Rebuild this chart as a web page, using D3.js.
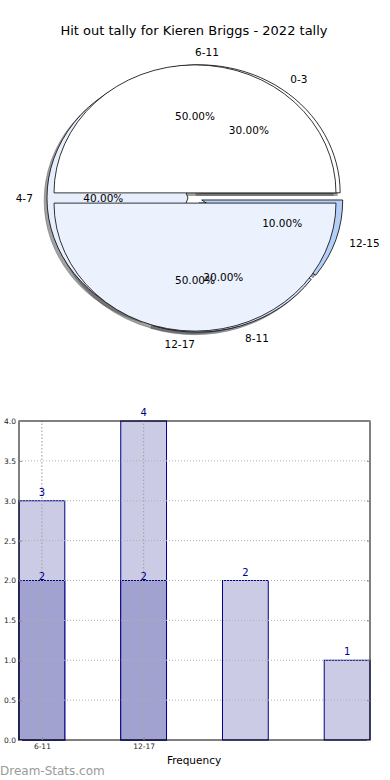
<!DOCTYPE html>
<html><head><meta charset="utf-8">
<script src="https://cdn.jsdelivr.net/npm/d3@7"></script>
<style>body{margin:0;background:#fff}svg{display:block;font-family:"DejaVu Sans",sans-serif}</style>
</head><body><svg id="c" width="390" height="780"></svg>
<script>
const chartTitle = "Hit out tally for Kieren Briggs - 2022 tally";
const outerCategories = ["0-3", "4-7", "8-11", "12-15"];
const outerValues = [3, 4, 2, 1];
const innerCategories = ["6-11", "12-17"];
const innerValues = [2, 2];
const barTickLabels = ["6-11", "12-17"];
const barLightValues = [3, 4, 2, 1];
const barDarkValues = [2, 2];
const yTickValues = [0, 0.5, 1, 1.5, 2, 2.5, 3, 3.5, 4];
const xAxisLabel = "Frequency";
const watermark = "Dream-Stats.com";

const outerColors = ["#ffffff", "#e8effc", "#d6e4fa", "#b3cff8"];
const innerColors = ["#ffffff", "#ebf1fd"];

const svg = d3.select("#c");

svg.append("text").attr("x", 194).attr("y", 30).attr("dy", "0.35em")
  .attr("text-anchor", "middle").attr("font-size", 13).text(chartTitle);

// ---------- pie ----------
const cx = 195, cy = 198, rx = 141, ry = 128;
const pie = d3.pie().sort(null).startAngle(Math.PI / 2).endAngle(Math.PI / 2 - 2 * Math.PI);
const arcGen = d3.arc().innerRadius(0).outerRadius(1);

function build(values, cats, colors, explode) {
  return pie(values).map((d, i) => {
    const tm = (d.startAngle + d.endAngle) / 2;
    const phi = Math.PI / 2 - tm;
    return { d, cat: cats[i], color: colors[i], phi,
      ox: explode * Math.cos(phi), oy: -explode * Math.sin(phi),
      pct: (d.value / d3.sum(values) * 100).toFixed(2) + "%" };
  });
}
const outer = build(outerValues, outerCategories, outerColors, 0.05);
const inner = build(innerValues, innerCategories, innerColors, 0.04);
const all = outer.concat(inner);

function shade(c) {
  const r = d3.rgb(c);
  return d3.rgb(r.r * 0.3, r.g * 0.3, r.b * 0.3).toString();
}
const gPie = svg.append("g");
// shadows
all.forEach(s => {
  gPie.append("path")
    .attr("transform", `translate(${cx + (s.ox - 0.02) * rx},${cy + (s.oy + 0.02) * ry}) scale(${rx},${ry})`)
    .attr("d", arcGen(s.d))
    .attr("fill", shade(s.color)).attr("stroke", shade(s.color))
    .attr("fill-opacity", 0.5).attr("stroke-opacity", 0.5)
    .attr("stroke-width", 0.8).attr("vector-effect", "non-scaling-stroke");
});
all.forEach(s => {
  gPie.append("path")
    .attr("transform", `translate(${cx + s.ox * rx},${cy + s.oy * ry}) scale(${rx},${ry})`)
    .attr("d", arcGen(s.d))
    .attr("fill", s.color).attr("stroke", "#000")
    .attr("stroke-width", 0.8).attr("vector-effect", "non-scaling-stroke");
});
all.forEach(s => {
  const lx = cx + (s.ox + 1.1 * Math.cos(s.phi)) * rx;
  const ly = cy + (s.oy - 1.1 * Math.sin(s.phi)) * ry;
  gPie.append("text").attr("x", lx).attr("y", ly).attr("dy", "0.35em")
    .attr("text-anchor", Math.cos(s.phi) > 0 ? "start" : "end")
    .attr("font-size", 10.5).text(s.cat);
  const px = cx + (s.ox + 0.6 * Math.cos(s.phi)) * rx;
  const py = cy + (s.oy - 0.6 * Math.sin(s.phi)) * ry;
  gPie.append("text").attr("x", px).attr("y", py).attr("dy", "0.35em")
    .attr("text-anchor", "middle").attr("font-size", 10.5).text(s.pct);
});

// ---------- bars ----------
const x = d3.scaleLinear().domain([-0.225, 3.225]).range([19, 370]);
const y = d3.scaleLinear().domain([0, 4]).range([740, 421]);
const bw = 0.45;
const gBar = svg.append("g");

gBar.selectAll("rect.light").data(barLightValues).join("rect")
  .attr("x", (d, i) => x(i - bw / 2)).attr("width", (d, i) => x(i + bw / 2) - x(i - bw / 2))
  .attr("y", d => y(d)).attr("height", d => y(0) - y(d))
  .attr("fill", "#cbcbe5").attr("stroke", "#00008b").attr("stroke-width", 1);
gBar.selectAll("rect.dark").data(barDarkValues).join("rect")
  .attr("x", (d, i) => x(i - bw / 2)).attr("width", (d, i) => x(i + bw / 2) - x(i - bw / 2))
  .attr("y", d => y(d)).attr("height", d => y(0) - y(d))
  .attr("fill", "#a2a2d0").attr("stroke", "#00008b").attr("stroke-width", 1);

// grid on top
gBar.selectAll("line.hg").data(yTickValues.filter(v => v > 0 && v < 4)).join("line")
  .attr("x1", x(-0.225)).attr("x2", x(3.225)).attr("y1", d => y(d)).attr("y2", d => y(d))
  .attr("stroke", "#b0b0b0").attr("stroke-width", 1).attr("stroke-dasharray", "1,2");
gBar.selectAll("line.vg").data([0, 1]).join("line")
  .attr("x1", d => x(d)).attr("x2", d => x(d)).attr("y1", y(0)).attr("y2", y(4))
  .attr("stroke", "#a8a8a8").attr("stroke-width", 1.2).attr("stroke-dasharray", "1.5,2");

// value labels
gBar.selectAll("text.lv").data(barLightValues).join("text")
  .attr("x", (d, i) => x(i)).attr("y", d => y(d) - 5).attr("text-anchor", "middle")
  .attr("font-size", 10).attr("fill", "#00008b").text(d => d);
gBar.selectAll("text.dv").data(barDarkValues).join("text")
  .attr("x", (d, i) => x(i)).attr("y", d => y(d) - 0.5).attr("text-anchor", "middle")
  .attr("font-size", 10).attr("fill", "#00008b").text(d => d);

// frame
gBar.append("rect").attr("x", 19).attr("y", 421).attr("width", 351).attr("height", 319)
  .attr("fill", "none").attr("stroke", "#000").attr("stroke-width", 1);

const yAx = gBar.append("g").attr("transform", `translate(19,0)`)
  .call(d3.axisLeft(y).tickValues(yTickValues).tickFormat(d3.format(".1f")).tickSizeInner(-3).tickSizeOuter(0).tickPadding(3));
yAx.select(".domain").remove();
yAx.selectAll("line").attr("stroke", "#888");
yAx.selectAll("text").attr("font-size", 7.5).attr("font-family", "DejaVu Sans").attr("fill", "#222");
const yAxR = gBar.append("g").attr("transform", `translate(370,0)`)
  .call(d3.axisRight(y).tickValues(yTickValues).tickFormat("").tickSizeInner(-3).tickSizeOuter(0));
yAxR.select(".domain").remove();
yAxR.selectAll("line").attr("stroke", "#888");

const xAx = gBar.append("g").attr("transform", `translate(0,740)`)
  .call(d3.axisBottom(x).tickValues([0, 1]).tickFormat(i => barTickLabels[i]).tickSizeInner(-3).tickSizeOuter(0).tickPadding(4));
xAx.select(".domain").remove();
xAx.selectAll("line").attr("stroke", "#888");
xAx.selectAll("text").attr("font-size", 7.5).attr("font-family", "DejaVu Sans").attr("fill", "#222");

svg.append("text").attr("x", 194).attr("y", 760).attr("dy", "0.35em").attr("text-anchor", "middle")
  .attr("font-size", 10.5).text(xAxisLabel);
svg.append("text").attr("x", 0).attr("y", 771).attr("dy", "0.35em").attr("text-anchor", "start")
  .attr("font-size", 12).attr("fill", "#9a9a9a").text(watermark);
</script></body></html>
